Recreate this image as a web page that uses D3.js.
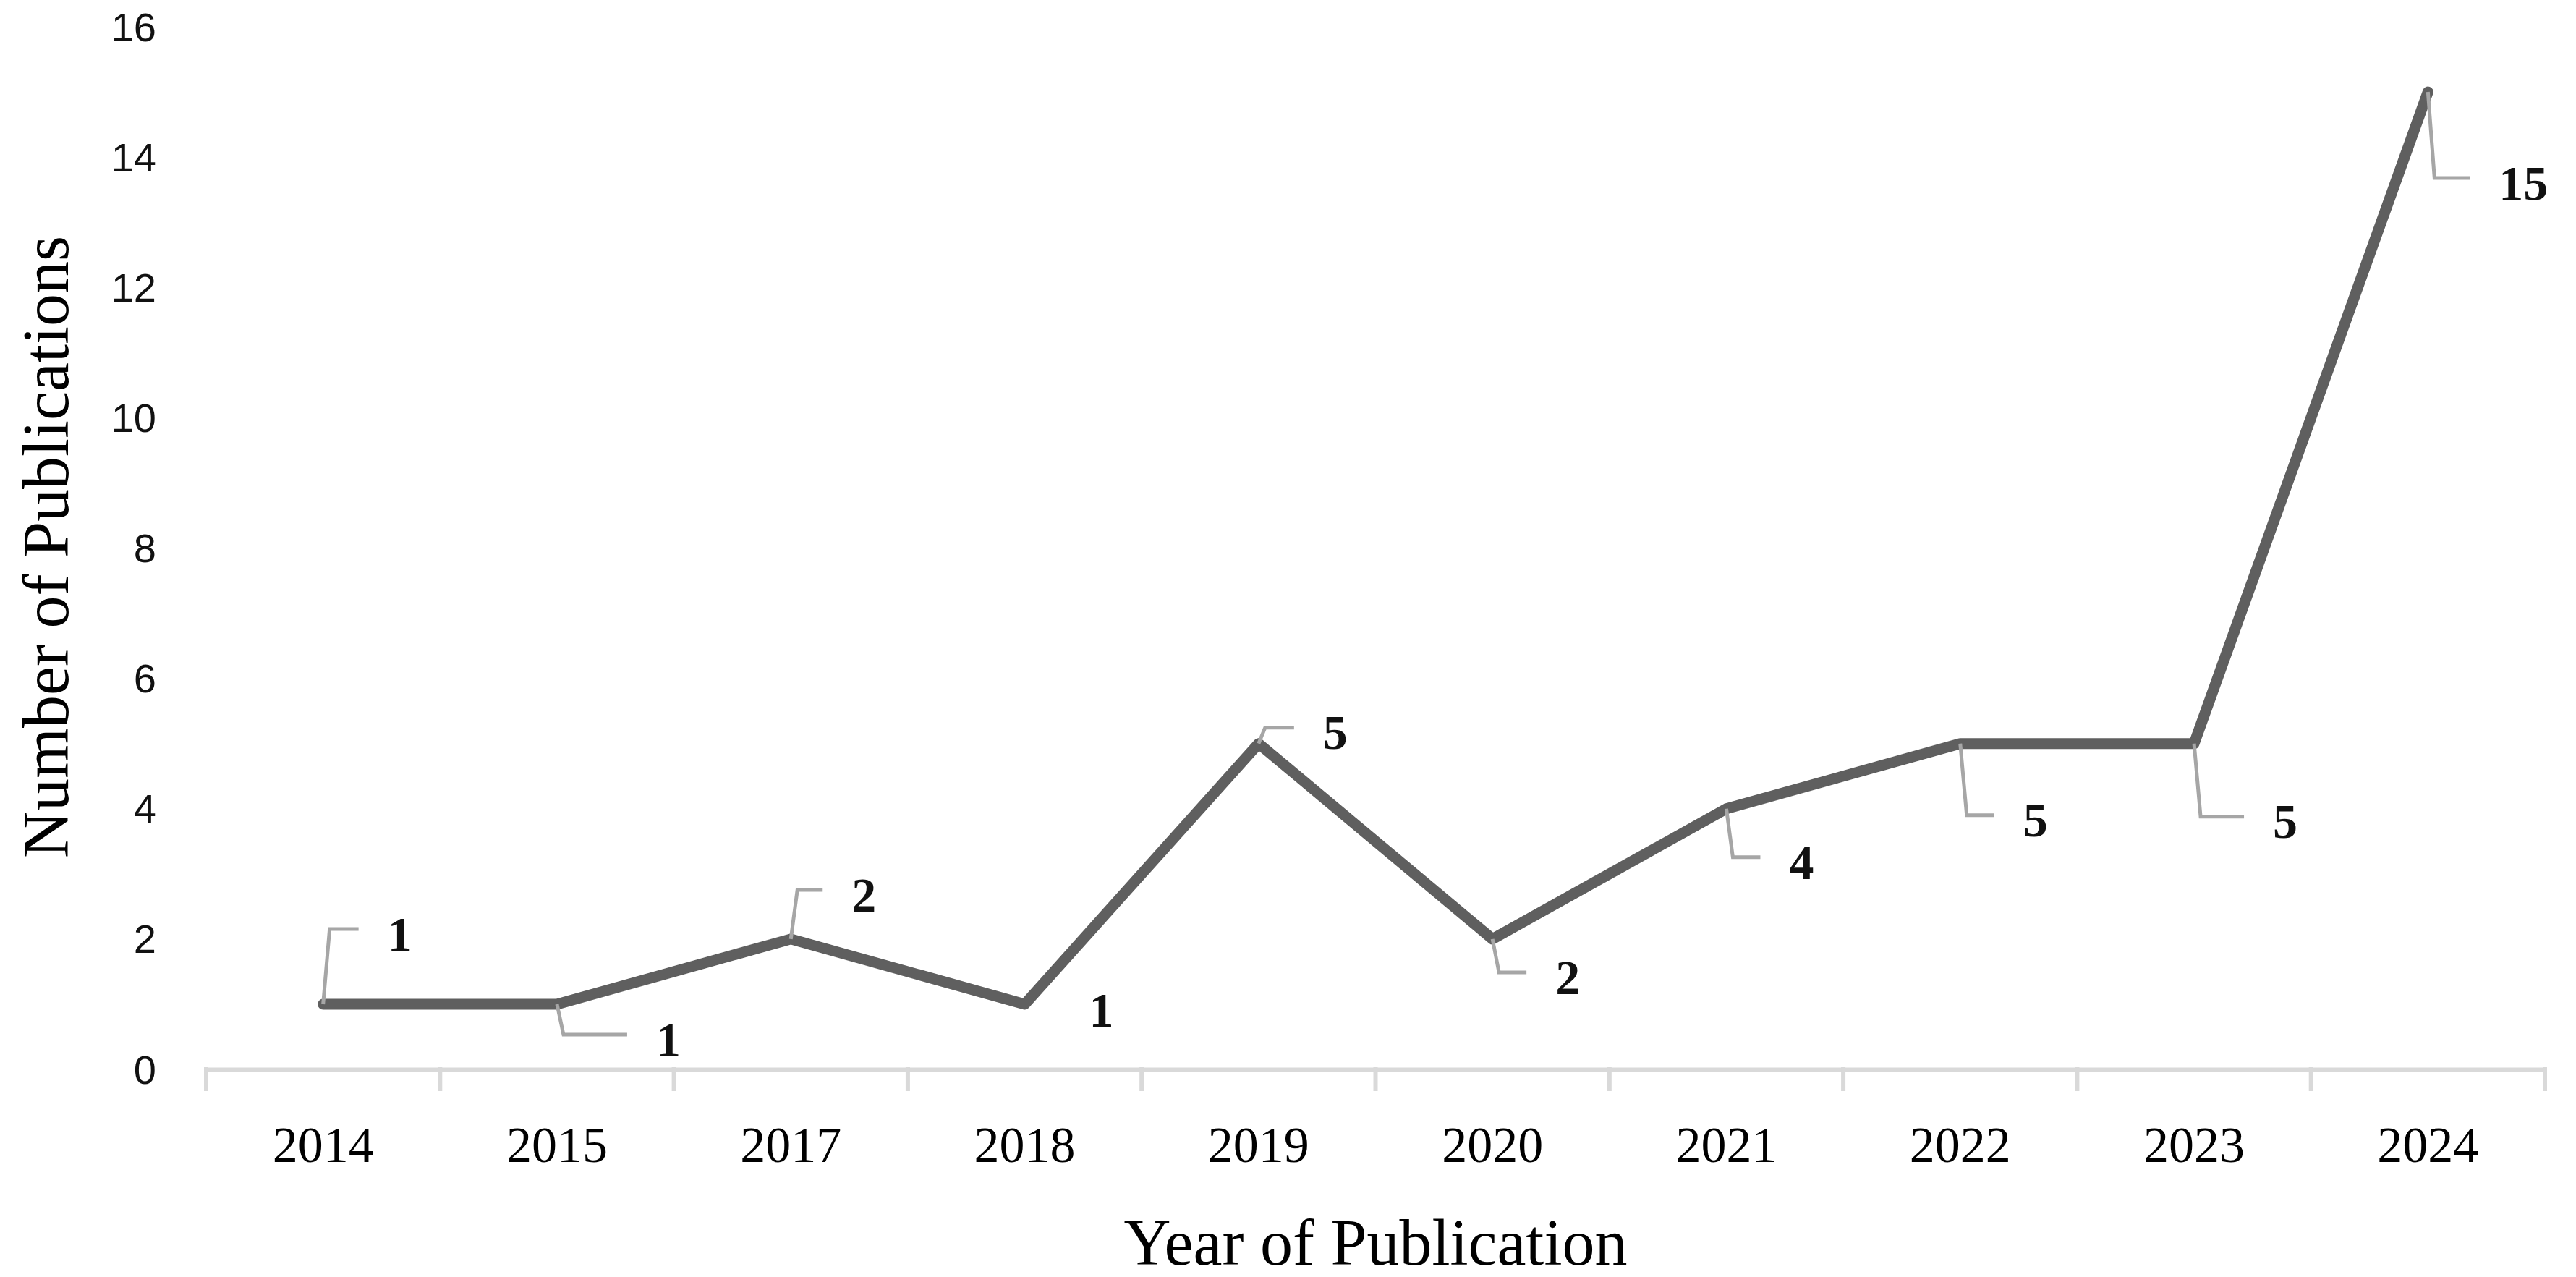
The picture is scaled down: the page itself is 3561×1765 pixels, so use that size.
<!DOCTYPE html>
<html><head><meta charset="utf-8">
<script src="https://cdn.jsdelivr.net/npm/d3@7/dist/d3.min.js"></script>
<style>body{margin:0;background:#fff}</style></head>
<body><svg id="c" width="3561" height="1765"></svg>
<script>
const years = ["2014","2015","2017","2018","2019","2020","2021","2022","2023","2024"];
const counts = [1,1,2,1,5,2,4,5,5,15];
const yTicks = [0,2,4,6,8,10,12,14,16];
// label offsets (layout, in px) and whether a leader line is drawn
const labelDX = [89,137,84,89,89,87,87,87,109,98];
const labelDY = [-98,48,-62,7,-16,52,73,105,107,125];
const leader = [true,true,true,false,true,true,true,true,true,true];

const svg = d3.select("#c");
const L=285,R=3518,T=37,B=1478;
const x = d3.scaleBand().domain(years).range([L,R]);
const y = d3.scaleLinear().domain([0,16]).range([B,T]);

svg.append("g").selectAll("text").data(yTicks).join("text")
  .attr("x",216).attr("y",d=>y(d)).attr("dy","0.35em").attr("text-anchor","end")
  .attr("font-family","Liberation Sans, Arial, sans-serif").attr("font-size",56).attr("fill","#111")
  .text(d=>d);

const xa = svg.append("g").attr("transform",`translate(0,${B})`)
  .call(d3.axisBottom(x).tickSize(0).tickSizeOuter(0).tickPadding(78));
xa.select(".domain").attr("stroke","#d9d9d9").attr("stroke-width",6);
xa.selectAll("text").attr("font-family","Liberation Serif, Times New Roman, serif").attr("font-size",70).attr("fill","#000");
const edges = years.map(d=>x(d)).concat([R]);
svg.append("g").selectAll("line").data(edges).join("line")
  .attr("x1",d=>d).attr("x2",d=>d).attr("y1",B-3).attr("y2",B+30)
  .attr("stroke","#d9d9d9").attr("stroke-width",6);

const cx = d=>x(d)+x.bandwidth()/2;
svg.append("path").datum(years.map((d,i)=>[cx(d),y(counts[i])]))
  .attr("d",d3.line()).attr("fill","none").attr("stroke","#5f5f5f")
  .attr("stroke-width",15).attr("stroke-linejoin","round").attr("stroke-linecap","round");

years.forEach((d,i)=>{
  const px=cx(d), py=y(counts[i]);
  const lx=px+labelDX[i], ly=py+labelDY[i];
  if(leader[i]){
    const ey = ly-6;
    svg.append("polyline").attr("points",`${px},${py} ${px+9},${ey} ${lx-40},${ey}`)
      .attr("fill","none").attr("stroke","#a6a6a6").attr("stroke-width",5);
  }
  svg.append("text").attr("x",lx).attr("y",ly).attr("dy","0.35em")
    .attr("font-family","Liberation Serif, Times New Roman, serif").attr("font-weight","bold")
    .attr("font-size",68).attr("fill","#111").text(counts[i]);
});

svg.append("text").attr("x",(L+R)/2).attr("y",1748).attr("text-anchor","middle")
  .attr("font-family","Liberation Serif, Times New Roman, serif").attr("font-size",90).text("Year of Publication");
svg.append("text").attr("transform","translate(94,756) rotate(-90)").attr("text-anchor","middle")
  .attr("font-family","Liberation Serif, Times New Roman, serif").attr("font-size",90).text("Number of Publications");
</script></body></html>
